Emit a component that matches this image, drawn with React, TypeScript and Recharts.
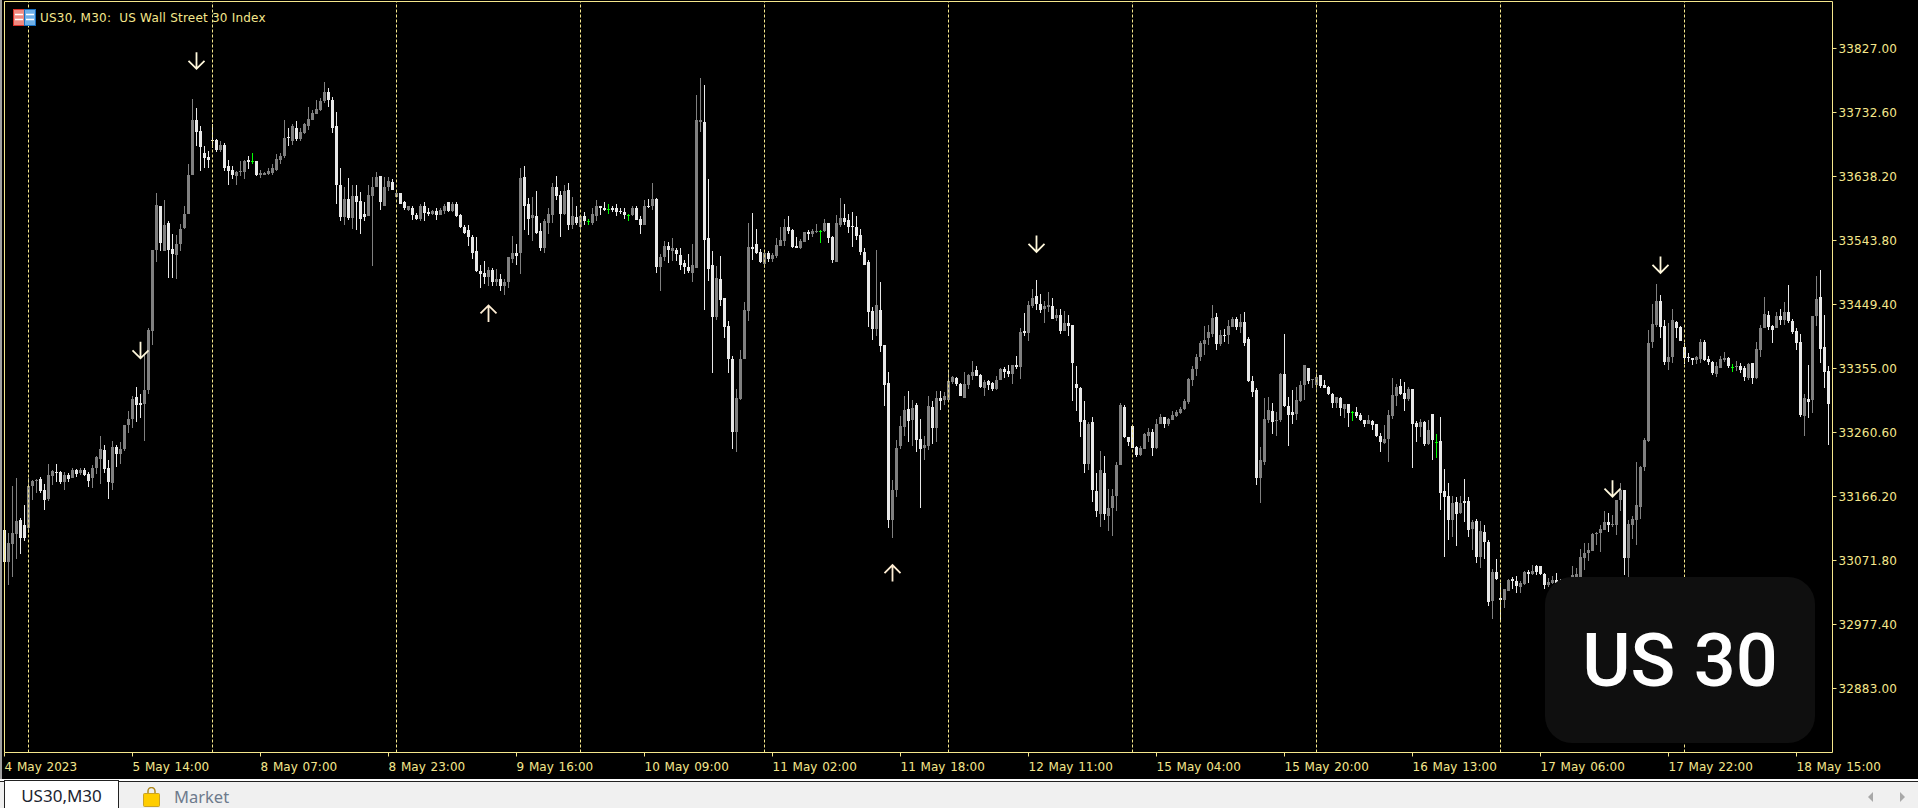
import { ComposedChart, Bar, Scatter, XAxis, YAxis, ReferenceLine } from 'recharts';

// each bar is [open, high, low, close], one list per chunk between the period separators
const sep0 = [
  [33117,33117,33068,33070],[33070,33112,33036,33097],[33096,33182,33048,33112],[33111,33193,33074,33130],[33131,33134,33081,33105],[33124,33154,33100,33105],
];
const sep1 = [
  [33120,33193,33113,33182],[33182,33190,33161,33189],[33189,33192,33172,33190],[33192,33195,33172,33174],[33176,33185,33146,33161],[33162,33214,33159,33198],[33196,33205,33183,33204],[33203,33214,33187,33201],
  [33202,33204,33185,33188],[33188,33202,33176,33198],[33198,33201,33188,33192],[33193,33208,33193,33205],[33205,33207,33195,33199],[33201,33208,33198,33205],[33205,33208,33196,33198],[33199,33202,33180,33189],
  [33193,33213,33179,33208],[33208,33226,33199,33224],[33221,33255,33185,33236],[33235,33242,33201,33207],[33208,33220,33162,33188],[33186,33248,33176,33239],[33239,33242,33210,33229],[33229,33247,33214,33236],
  [33236,33272,33233,33272],[33272,33292,33260,33280],[33280,33314,33267,33310],[33313,33328,33276,33301],[33304,33317,33282,33301],[33303,33375,33248,33323],[33323,33415,33317,33412],[33411,33530,33390,33530],
  [33530,33614,33512,33596],[33594,33595,33528,33540],[33529,33604,33529,33567],[33570,33572,33488,33530],[33531,33553,33488,33524],[33523,33552,33487,33538],[33538,33568,33529,33561],[33562,33595,33561,33583],
  [33583,33656,33583,33641],[33641,33753,33641,33722],[33722,33739,33683,33704],[33706,33712,33646,33681],[33673,33683,33651,33666],[33667,33676,33650,33663],
];
const sep2 = [
  [33692,33715,33680,33691],[33692,33693,33675,33678],[33678,33690,33675,33685],[33685,33687,33647,33651],[33653,33663,33626,33647],[33648,33654,33635,33641],[33639,33647,33626,33645],[33645,33661,33639,33647],
  [33645,33663,33635,33661],[33663,33668,33649,33660],[33661,33673,33656,33661],[33661,33661,33639,33641],[33641,33648,33636,33643],[33641,33645,33641,33644],[33642,33651,33641,33647],[33644,33657,33641,33650],
  [33648,33672,33647,33664],[33663,33673,33657,33669],[33669,33722,33666,33695],[33697,33710,33683,33695],[33691,33716,33685,33712],[33710,33720,33691,33694],[33694,33709,33691,33704],[33703,33717,33701,33715],
  [33713,33740,33707,33723],[33722,33737,33722,33732],[33731,33751,33731,33738],[33737,33754,33735,33749],[33749,33777,33747,33763],[33763,33769,33740,33751],[33751,33756,33703,33709],[33713,33734,33598,33625],
  [33626,33650,33572,33579],[33579,33623,33566,33605],[33605,33636,33574,33577],[33577,33625,33561,33610],[33610,33625,33560,33600],[33602,33615,33554,33576],[33583,33601,33572,33579],[33580,33625,33580,33611],
  [33610,33638,33506,33623],[33623,33645,33622,33638],[33639,33639,33589,33601],[33595,33638,33595,33623],[33623,33638,33617,33632],[33630,33635,33619,33619],
];
const sep3 = [
  [33608,33619,33608,33614],[33614,33614,33597,33598],[33600,33602,33589,33591],[33589,33595,33588,33594],[33591,33594,33574,33582],[33582,33585,33574,33576],[33576,33598,33573,33595],[33595,33600,33572,33585],
  [33586,33592,33580,33583],[33583,33589,33582,33588],[33588,33592,33574,33582],[33582,33592,33582,33589],[33588,33597,33583,33595],[33600,33600,33586,33588],[33588,33600,33586,33598],[33598,33600,33579,33580],
  [33582,33583,33562,33563],[33564,33567,33554,33555],[33560,33567,33536,33549],[33549,33552,33517,33526],[33529,33549,33498,33499],[33499,33508,33474,33495],[33496,33513,33480,33490],[33490,33504,33477,33501],
  [33501,33503,33477,33483],[33483,33502,33477,33487],[33487,33495,33470,33476],[33476,33487,33464,33483],[33482,33520,33473,33520],[33517,33551,33510,33526],[33526,33538,33507,33521],[33526,33650,33495,33636],
  [33638,33653,33560,33595],[33598,33607,33552,33576],[33577,33608,33543,33582],[33580,33617,33554,33555],[33558,33570,33529,33533],[33532,33576,33526,33572],[33570,33591,33554,33583],[33582,33629,33569,33622],
  [33623,33639,33603,33610],[33611,33617,33549,33583],[33583,33625,33582,33617],[33619,33628,33560,33566],[33566,33608,33561,33580],[33579,33595,33566,33570],
];
const sep4 = [
  [33564,33582,33557,33580],[33580,33586,33566,33572],[33572,33576,33567,33572],[33569,33591,33566,33583],[33580,33603,33572,33594],[33595,33595,33582,33591],[33592,33601,33588,33589],[33590,33597,33583,33590],
  [33592,33595,33586,33589],[33592,33597,33580,33586],[33588,33592,33583,33586],[33586,33591,33576,33582],[33582,33583,33572,33582],[33582,33594,33580,33591],[33591,33594,33574,33574],[33576,33580,33554,33567],
  [33566,33603,33566,33595],[33595,33605,33591,33594],[33595,33629,33589,33605],[33605,33607,33496,33505],[33505,33524,33470,33520],[33520,33543,33513,33535],[33535,33541,33511,33530],[33529,33548,33514,33532],
  [33530,33533,33513,33524],[33523,33533,33501,33507],[33511,33515,33495,33505],[33505,33524,33496,33499],[33496,33539,33483,33508],[33503,33759,33503,33722],[33719,33784,33704,33722],[33719,33773,33441,33545],
  [33548,33635,33484,33502],[33508,33529,33349,33431],[33431,33506,33427,33489],[33487,33521,33447,33456],[33459,33459,33400,33416],[33418,33425,33349,33369],[33369,33374,33236,33262],[33262,33325,33232,33312],
  [33310,33382,33309,33369],[33369,33453,33369,33441],[33440,33570,33425,33534],[33534,33585,33515,33531],[33539,33561,33524,33526],[33527,33531,33511,33512],
];
const sep5 = [
  [33509,33527,33503,33526],[33526,33528,33512,33517],[33517,33526,33512,33523],[33521,33548,33518,33537],[33536,33564,33536,33545],[33543,33576,33536,33564],[33564,33580,33554,33558],[33559,33561,33533,33534],
  [33536,33549,33533,33533],[33533,33546,33531,33543],[33542,33557,33542,33557],[33557,33559,33545,33554],[33554,33561,33549,33558],[33556,33568,33555,33558],[33558,33559,33540,33558],[33558,33576,33557,33570],
  [33570,33570,33540,33548],[33549,33551,33511,33515],[33512,33582,33512,33570],[33567,33607,33564,33577],[33577,33598,33567,33571],[33574,33583,33555,33564],[33565,33586,33534,33564],[33564,33580,33545,33551],
  [33552,33561,33523,33527],[33527,33533,33508,33508],[33512,33515,33416,33439],[33440,33446,33397,33413],[33413,33530,33403,33449],[33441,33483,33380,33388],[33390,33390,33300,33331],[33334,33350,33120,33132],
  [33132,33190,33105,33176],[33176,33250,33165,33238],[33241,33285,33236,33270],[33269,33315,33256,33294],[33295,33322,33247,33278],[33279,33309,33240,33297],[33301,33304,33232,33250],[33251,33281,33149,33236],
  [33238,33256,33220,33242],[33241,33315,33235,33300],[33298,33307,33244,33267],[33267,33322,33247,33312],[33312,33322,33294,33307],[33309,33321,33301,33315],
];
const sep6 = [
  [33309,33352,33307,33337],[33335,33344,33332,33343],[33341,33343,33329,33332],[33332,33334,33315,33315],[33312,33350,33312,33332],[33331,33347,33325,33346],[33344,33366,33338,33350],[33353,33359,33344,33344],
  [33346,33347,33326,33328],[33326,33338,33315,33335],[33337,33338,33323,33331],[33334,33335,33322,33325],[33325,33344,33323,33338],[33338,33356,33338,33354],[33354,33357,33341,33350],[33351,33360,33343,33347],
  [33347,33360,33332,33360],[33360,33374,33354,33357],[33357,33415,33340,33409],[33411,33437,33403,33408],[33408,33455,33396,33449],[33447,33472,33444,33459],[33462,33486,33441,33450],[33450,33465,33437,33441],
  [33443,33455,33422,33447],[33446,33468,33439,33449],[33447,33459,33428,33428],[33430,33443,33425,33434],[33434,33443,33406,33411],[33411,33440,33411,33422],[33422,33434,33403,33418],[33419,33419,33307,33363],
  [33332,33359,33293,33326],[33326,33328,33254,33276],[33279,33307,33201,33214],[33214,33276,33205,33273],[33276,33284,33158,33176],[33174,33201,33136,33145],[33141,33234,33121,33205],[33201,33226,33132,33141],
  [33138,33177,33116,33149],[33149,33177,33108,33167],[33167,33217,33145,33213],[33213,33304,33213,33301],[33298,33301,33253,33254],[33254,33254,33241,33247],
];
const sep7 = [
  [33270,33270,33238,33238],[33239,33241,33225,33228],[33228,33241,33226,33238],[33236,33260,33236,33259],[33256,33267,33247,33262],[33262,33266,33226,33238],[33238,33281,33236,33273],[33273,33288,33273,33284],
  [33284,33284,33267,33273],[33273,33282,33270,33281],[33279,33292,33279,33287],[33285,33294,33284,33291],[33290,33298,33288,33295],[33295,33310,33294,33307],[33306,33341,33303,33340],[33338,33359,33329,33354],
  [33354,33377,33344,33372],[33372,33396,33366,33393],[33391,33418,33375,33397],[33400,33419,33390,33409],[33406,33449,33402,33430],[33431,33437,33382,33391],[33391,33412,33388,33405],[33405,33413,33394,33403],
  [33405,33427,33391,33418],[33416,33431,33416,33428],[33428,33431,33412,33416],[33416,33436,33408,33424],[33424,33439,33388,33393],[33399,33402,33335,33337],[33337,33344,33313,33321],[33323,33326,33183,33194],
  [33194,33239,33157,33220],[33217,33312,33213,33281],[33279,33313,33275,33294],[33292,33304,33259,33276],[33278,33291,33256,33279],[33279,33349,33276,33347],[33347,33406,33298,33300],[33300,33313,33241,33287],
  [33291,33323,33273,33287],[33288,33328,33279,33309],[33307,33337,33306,33331],[33331,33360,33309,33360],[33356,33356,33332,33337],[33338,33340,33326,33340],
];
const sep8 = [
  [33331,33349,33322,33343],[33346,33346,33326,33329],[33331,33338,33326,33326],[33328,33329,33316,33318],[33318,33319,33297,33304],[33304,33313,33297,33313],[33312,33313,33285,33297],[33295,33303,33282,33303],
  [33303,33303,33269,33290],[33291,33292,33278,33291],[33291,33298,33282,33285],[33287,33290,33278,33279],[33279,33279,33269,33273],[33273,33287,33273,33279],[33278,33279,33264,33272],[33273,33273,33254,33256],
  [33256,33260,33232,33247],[33245,33272,33244,33251],[33251,33294,33217,33287],[33285,33341,33281,33316],[33315,33332,33300,33328],[33329,33340,33316,33318],[33319,33335,33293,33310],[33310,33328,33307,33325],
  [33325,33325,33208,33273],[33275,33278,33247,33268],[33268,33281,33254,33276],[33276,33278,33241,33244],[33244,33279,33242,33265],[33288,33288,33220,33250],[33247,33259,33223,33247],[33248,33284,33147,33172],
  [33175,33207,33077,33166],[33167,33186,33102,33132],[33132,33167,33107,33157],[33158,33166,33093,33141],[33142,33167,33141,33157],[33160,33192,33129,33157],[33160,33166,33107,33117],[33118,33132,33087,33129],
  [33130,33133,33068,33077],[33077,33130,33060,33116],[33114,33124,33074,33099],[33099,33102,33005,33011],[33012,33059,32986,33055],[33055,33074,33043,33045],
];
const sep9 = [
  [33017,33039,32984,33014],[33014,33030,33002,33030],[33027,33045,33027,33043],[33045,33048,33030,33042],[33042,33049,33024,33034],[33033,33042,33024,33039],[33037,33057,33036,33055],[33055,33058,33039,33052],
  [33052,33065,33051,33057],[33064,33065,33051,33055],[33064,33064,33051,33052],[33052,33054,33030,33036],[33036,33046,33033,33040],[33039,33049,33037,33043],[33043,33054,33028,33039],[33039,33045,33020,33030],
  [33030,33040,33015,33025],[33025,33045,33018,33040],[33040,33064,33030,33050],[33048,33060,33030,33052],[33045,33089,33040,33077],[33075,33098,33058,33083],[33083,33098,33071,33087],[33086,33113,33086,33111],
  [33111,33114,33095,33113],[33113,33124,33085,33118],[33117,33145,33117,33129],[33129,33142,33114,33124],[33124,33139,33121,33126],[33124,33161,33110,33161],[33161,33186,33145,33176],[33176,33176,33051,33076],
  [33076,33132,33048,33126],[33124,33138,33104,33133],[33132,33217,33095,33154],[33150,33211,33133,33210],[33210,33253,33204,33250],[33248,33412,33247,33393],[33394,33450,33385,33421],[33419,33480,33416,33455],
  [33455,33464,33400,33416],[33418,33427,33360,33365],[33365,33422,33353,33372],[33372,33443,33363,33427],[33424,33425,33400,33415],[33416,33418,33396,33396],
];
const sep10 = [
  [33387,33393,33362,33371],[33372,33378,33365,33371],[33371,33371,33360,33368],[33368,33374,33362,33372],[33369,33399,33363,33394],[33394,33397,33366,33368],[33369,33374,33360,33365],[33365,33366,33346,33349],
  [33347,33365,33343,33358],[33356,33374,33355,33369],[33368,33380,33365,33371],[33371,33372,33356,33358],[33357,33362,33350,33357],[33357,33366,33352,33359],[33359,33363,33349,33353],[33355,33358,33337,33343],
  [33341,33363,33338,33362],[33363,33363,33332,33341],[33341,33394,33340,33384],[33383,33419,33372,33415],[33415,33461,33414,33436],[33434,33440,33412,33416],[33418,33419,33393,33412],[33414,33439,33414,33433],
  [33433,33443,33419,33427],[33427,33453,33419,33439],[33439,33478,33422,33425],[33425,33428,33406,33409],[33411,33415,33383,33393],[33394,33406,33284,33287],[33285,33318,33256,33312],[33310,33360,33282,33306],
  [33309,33433,33290,33433],[33433,33492,33418,33458],[33461,33501,33363,33384],[33387,33434,33326,33350],[33352,33359,33242,33303],
];

const separatorBars = [6, 52, 98, 144, 190, 236, 282, 328, 374, 420];
const dateLabels = ['4 May 2023', '5 May 14:00', '8 May 07:00', '8 May 23:00', '9 May 16:00', '10 May 09:00', '11 May 02:00', '11 May 18:00', '12 May 11:00', '15 May 04:00', '15 May 20:00', '16 May 13:00', '17 May 06:00', '17 May 22:00', '18 May 15:00'];
const dateTicks = [0, 32, 64, 96, 128, 160, 192, 224, 256, 288, 320, 352, 384, 416, 448];
const priceTicks = [33827, 33732.6, 33638.2, 33543.8, 33449.4, 33355, 33260.6, 33166.2, 33071.8, 32977.4, 32883];
const priceDomain = [32788.6, 33896.3];

// fractal style arrows: bar index, price at the arrow tip, direction
const arrowBars = [34, 48, 121, 222, 258, 402, 414];
const arrowPrices = [33370, 33797, 33448, 33065, 33527, 33166, 33496];
const arrowDirs = ['down', 'down', 'up', 'up', 'down', 'down', 'down'];

const AXIS = '#f5e78c';
const BULL = '#808080';
const BEAR = '#e8e8e8';
const DOJI = '#00ff00';
const FONT = '"DejaVu Sans", sans-serif';

const bars = [...sep0, ...sep1, ...sep2, ...sep3, ...sep4, ...sep5, ...sep6, ...sep7, ...sep8, ...sep9, ...sep10];
const rows = bars.map(([o, h, l, c], i) => ({
  i,
  wick: [l, h],
  body: [Math.min(o, c), Math.max(o, c)],
  color: o === c ? DOJI : c > o ? BULL : BEAR,
}));
const arrows = arrowBars.map((i, n) => ({ i, price: arrowPrices[n], dir: arrowDirs[n] }));

function CandlePart(props: any) {
  const { x, y, width, height, payload } = props;
  const top = Math.round(y);
  return <rect x={x} y={top} width={width} height={Math.max(Math.round(y + height) - top, 1)} fill={payload.color} shapeRendering="crispEdges" />;
}

function Arrow(props: any) {
  const { cx, cy, payload } = props;
  const s = payload.dir === 'down' ? -1 : 1;
  const d = `M${cx} ${cy + s * 16.5}L${cx} ${cy}M${cx - 8} ${cy + s * 8}L${cx} ${cy}L${cx + 8} ${cy + s * 8}`;
  return <path d={d} fill="none" stroke={payload.dir === 'down' ? '#fff8dc' : '#ffeed4'} strokeWidth={1.8} />;
}

function DateTick(props: any) {
  const { x, y, payload } = props;
  return (
    <text x={x} y={y + 12} fontFamily={FONT} fontSize={12} fill={AXIS} textAnchor="start" wordSpacing={1}>
      {dateLabels[dateTicks.indexOf(payload.value)]}
    </text>
  );
}

function MarketIcon() {
  return (
    <svg width="17" height="20" style={{ position: 'absolute', left: 143, top: 787 }}>
      <path d="M5 7V4a3.5 3.5 0 0 1 7 0v3" fill="none" stroke="#b08a1e" strokeWidth="1.5" />
      <rect x="0.5" y="6.5" width="16" height="13" rx="1" fill="#ffcd00" stroke="#c9a227" />
    </svg>
  );
}

function SymbolIcon() {
  return (
    <svg width="23" height="17" style={{ position: 'absolute', left: 13, top: 9 }}>
      <rect x="0.5" y="0.5" width="11" height="16" fill="#f08a80" stroke="#d8342c" />
      <rect x="11.5" y="0.5" width="11" height="16" fill="#6fb0e8" stroke="#1a6fbf" />
      <path d="M2 5.5H10M2 10.5H10M13 5.5H21M13 10.5H21" stroke="#ffffff" strokeWidth="1.4" />
    </svg>
  );
}

export default function App() {
  return (
    <div style={{ position: 'absolute', left: 0, top: 0, width: 1918, height: 808, background: '#000', overflow: 'hidden' }}>
      <ComposedChart width={1918} height={781} data={rows} margin={{ top: 1.5, right: 0, bottom: 0, left: 4.5 }}>
        <XAxis xAxisId="main" dataKey="i" type="number" domain={[0, 457]} ticks={dateTicks} interval={0} height={28.5} stroke={AXIS} tickSize={4} tick={<DateTick />} />
        <XAxis xAxisId="body" dataKey="i" type="number" domain={[0, 457]} orientation="top" height={0} hide />
        <YAxis
          orientation="right"
          type="number"
          domain={priceDomain}
          ticks={priceTicks}
          interval={0}
          width={85.5}
          stroke={AXIS}
          tickSize={4}
          tickMargin={2}
          tickFormatter={(v: number) => v.toFixed(2)}
          tick={{ fontFamily: FONT, fontSize: 12, fill: AXIS, letterSpacing: 0.15 }}
        />
        <ReferenceLine xAxisId="main" y={priceDomain[1]} stroke={AXIS} />
        <ReferenceLine xAxisId="main" x={0} stroke={AXIS} />
        {separatorBars.map((b) => (
          <ReferenceLine key={b} xAxisId="main" x={b} stroke={AXIS} strokeDasharray="3 2" />
        ))}
        <Bar xAxisId="main" dataKey="wick" barSize={1} shape={<CandlePart />} isAnimationActive={false} />
        <Bar xAxisId="body" dataKey="body" barSize={3} shape={<CandlePart />} isAnimationActive={false} />
        <Scatter xAxisId="main" data={arrows} dataKey="price" shape={<Arrow />} isAnimationActive={false} />
      </ComposedChart>

      <div style={{ position: 'absolute', left: 0, top: 0, width: 2, height: 780, background: '#a0a0a0' }} />
      <SymbolIcon />
      <div style={{ position: 'absolute', left: 40, top: 10, fontFamily: FONT, fontSize: 12, lineHeight: '16px', letterSpacing: 0.22, color: AXIS, whiteSpace: 'pre' }}>
        {'US30, M30:  US Wall Street 30 Index'}
      </div>

      {/* US 30 badge sits over the candles */}
      <div style={{ position: 'absolute', left: 1545, top: 577, width: 270, height: 166, borderRadius: 27, background: '#0f0f0f', display: 'flex', alignItems: 'center', justifyContent: 'center' }}>
        <span style={{ fontFamily: 'Roboto, sans-serif', fontWeight: 500, fontSize: 74, color: '#fff' }}>US 30</span>
      </div>

      {/* terminal tab strip */}
      <div style={{ position: 'absolute', left: 0, top: 779, width: 1918, height: 2, background: '#fff' }} />
      <div style={{ position: 'absolute', left: 0, top: 781, width: 1918, height: 27, background: '#f0f0f0', borderTop: '1px solid #222', boxSizing: 'border-box' }} />
      <div style={{ position: 'absolute', left: 4, top: 780, width: 115, height: 28, background: '#fff', borderLeft: '1px solid #222', borderRight: '1px solid #222', borderTop: '1px solid #222', boxSizing: 'border-box', fontFamily: '"Noto Sans", sans-serif', fontSize: 17, lineHeight: '30px', textAlign: 'center', color: '#1c2430' }}>
        US30,M30
      </div>
      <MarketIcon />
      <div style={{ position: 'absolute', left: 174, top: 783, fontFamily: '"Noto Sans", sans-serif', fontSize: 16.5, lineHeight: '28px', color: '#6d7a8c' }}>Market</div>
      <svg width="40" height="12" style={{ position: 'absolute', left: 1867, top: 791 }}>
        <path d="M6 1L1 6L6 11Z" fill="#a8a8a8" />
        <path d="M33 1L38 6L33 11Z" fill="#a8a8a8" />
      </svg>
    </div>
  );
}
